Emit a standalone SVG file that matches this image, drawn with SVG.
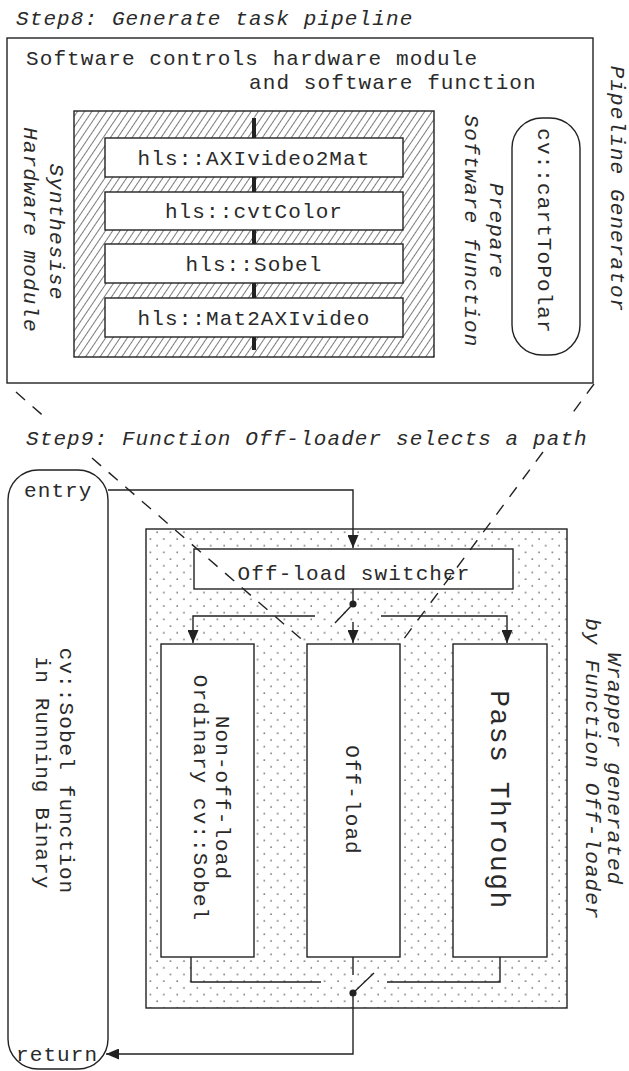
<svg xmlns="http://www.w3.org/2000/svg" width="629" height="1071" viewBox="0 0 629 1071">
<style>
.box{fill:#fff;stroke:#222;stroke-width:1.4}
.t{font-family:"Liberation Mono","Courier New",monospace;font-size:21px;letter-spacing:1.1px;fill:#2a2a2a}
.i{font-style:italic}
.ln{stroke:#222;stroke-width:1.4;fill:none}
.dash{stroke:#222;stroke-width:1.4;stroke-dasharray:12 10;fill:none}
.mid{text-anchor:middle}
</style>
<defs>
<pattern id="hatch" width="6" height="6" patternUnits="userSpaceOnUse" patternTransform="rotate(34)">
<line x1="0" y1="0" x2="0" y2="6" stroke="#222" stroke-width="1.2"/>
</pattern>
<pattern id="dots" width="13.4" height="13.4" patternUnits="userSpaceOnUse">
<circle cx="3" cy="3" r="0.75" fill="#444"/>
<circle cx="9.7" cy="9.7" r="0.75" fill="#444"/>
</pattern>
<marker id="arr" markerUnits="userSpaceOnUse" markerWidth="13" markerHeight="11" refX="13" refY="5.5" orient="auto">
<path d="M0,0 L13,5.5 L0,11 Z" fill="#222"/>
</marker>
</defs>

<text class="t i" x="16" y="25">Step8: Generate task pipeline</text>

<g id="pipeline-generator">
<rect class="box" x="7" y="38" width="586" height="345"/>
<text class="t" x="26" y="65">Software controls hardware module</text>
<text class="t" x="249" y="89">and software function</text>
<text class="t i mid" transform="translate(618,189) rotate(90)" y="7">Pipeline Generator</text>
</g>

<g id="hardware-module">
<rect x="74" y="111" width="360" height="246" fill="url(#hatch)" stroke="#222" stroke-width="1.4"/>
<line x1="254" y1="118" x2="254" y2="350" stroke="#222" stroke-width="4"/>
<text class="t i mid" transform="translate(57,232) rotate(90)" y="7">Synthesise</text>
<text class="t i mid" transform="translate(31,230) rotate(90)" y="7">Hardware module</text>
</g>
<g id="axivideo2mat">
<rect class="box" x="105" y="138" width="298" height="39"/>
<text class="t mid" x="254" y="165">hls::AXIvideo2Mat</text>
</g>
<g id="cvtcolor">
<rect class="box" x="105" y="192" width="298" height="38"/>
<text class="t mid" x="254" y="218">hls::cvtColor</text>
</g>
<g id="sobel">
<rect class="box" x="105" y="244" width="298" height="39"/>
<text class="t mid" x="254" y="271">hls::Sobel</text>
</g>
<g id="mat2axivideo">
<rect class="box" x="105" y="298" width="298" height="39"/>
<text class="t mid" x="254" y="325">hls::Mat2AXIvideo</text>
</g>

<g id="software-function">
<text class="t i mid" transform="translate(497,231) rotate(90)" y="7">Prepare</text>
<text class="t i mid" transform="translate(472,231) rotate(90)" y="7">Software function</text>
</g>
<g id="carttopolar">
<rect class="box" x="512" y="118" width="68" height="237" rx="30" ry="30"/>
<text class="t mid" transform="translate(545,231) rotate(90)" y="7">cv::cartToPolar</text>
</g>

<text class="t i" x="26" y="445">Step9: Function Off-loader selects a path</text>

<g id="running-binary">
<rect class="box" x="8" y="470" width="100" height="599" rx="30" ry="30"/>
<text class="t" x="24" y="497">entry</text>
<text class="t" x="16" y="1061">return</text>
<text class="t mid" transform="translate(67,771) rotate(90)" y="7">cv::Sobel function</text>
<text class="t mid" transform="translate(43,773) rotate(90)" y="7">in Running Binary</text>
</g>

<g id="wrapper">
<rect x="146" y="529" width="421" height="479" fill="url(#dots)" stroke="#222" stroke-width="1.4"/>
<text class="t i mid" transform="translate(615,769) rotate(90)" y="7">Wrapper generated</text>
<text class="t i mid" transform="translate(593,769) rotate(90)" y="7">by Function Off-loader</text>
</g>

<g id="switcher">
<rect class="box" x="194" y="549" width="319" height="40"/>
<text class="t mid" x="354" y="580">Off-load switcher</text>
</g>

<g id="non-off-load">
<rect class="box" x="161" y="644" width="93" height="313"/>
<text class="t mid" transform="translate(223,798) rotate(90)" y="7">Non-off-load</text>
<text class="t mid" transform="translate(201,798) rotate(90)" y="7">Ordinary cv::Sobel</text>
</g>
<g id="off-load">
<rect class="box" x="307" y="644" width="93" height="313"/>
<text class="t mid" transform="translate(353,800) rotate(90)" y="7">Off-load</text>
</g>
<g id="pass-through">
<rect class="box" x="453" y="644" width="94" height="313"/>
<text class="t mid" style="font-size:28px;letter-spacing:1.5px" transform="translate(500,800) rotate(90)" y="9">Pass Through</text>
</g>

<g id="connectors">
<path class="ln" d="M108,490 H353 V548" marker-end="url(#arr)"/>
<path class="ln" d="M353,589 V604 L335,623"/>
<path class="ln" d="M315,616 H193 V643" marker-end="url(#arr)"/>
<path class="ln" d="M381,616 H507 V643" marker-end="url(#arr)"/>
<path class="ln" d="M353,622 V643" marker-end="url(#arr)"/>
<circle cx="353" cy="604" r="3.6" fill="#222"/>
<path class="ln" d="M191,957 V982 H321"/>
<path class="ln" d="M500,957 V982 H387"/>
<path class="ln" d="M353,957 V975"/>
<path class="ln" d="M374,973 L353,993 V1054 H106" marker-end="url(#arr)"/>
<circle cx="353" cy="993" r="3.6" fill="#222"/>
<path class="dash" d="M16,392 L48,420"/>
<path class="dash" d="M92,458 L307,644"/>
<path class="dash" d="M594,384 L568,419"/>
<path class="dash" d="M543,452 L400,644"/>
</g>
</svg>
